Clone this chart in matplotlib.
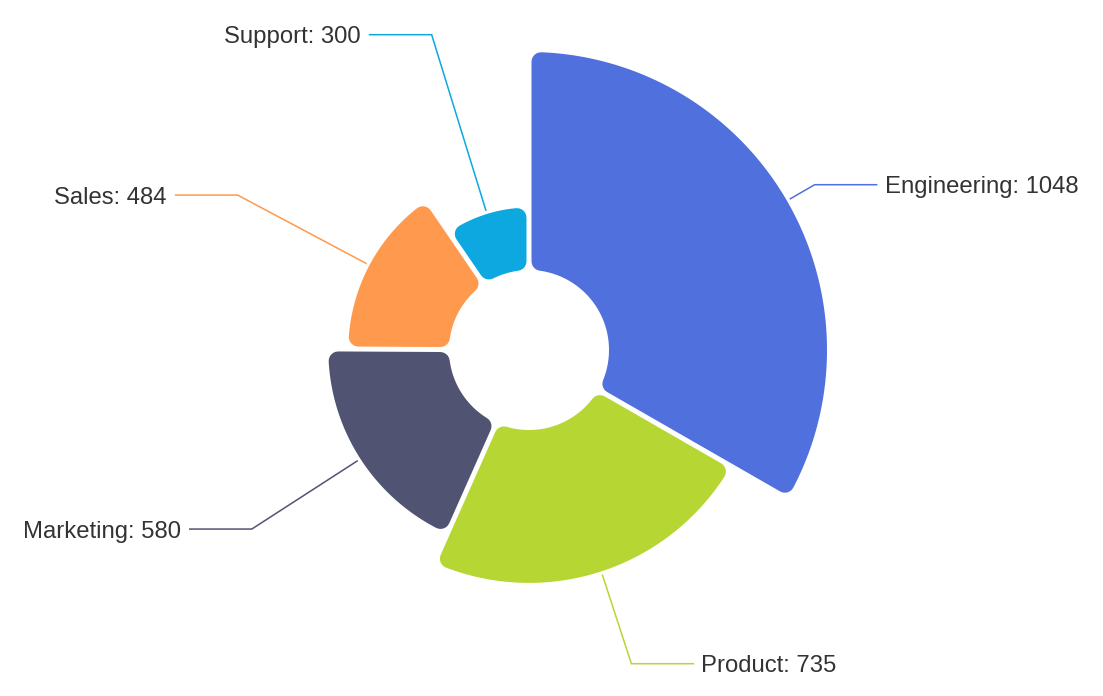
import numpy as np
import matplotlib
matplotlib.use("Agg")
import matplotlib.pyplot as plt
from matplotlib.patches import Polygon

# ---- data ----
categories = ["Engineering", "Product", "Marketing", "Sales", "Support"]
values = [1048, 735, 580, 484, 300]
colors = ["#5070dd", "#b6d634", "#505372", "#ff994d", "#0ca8df"]

# ---- layout (pixels) ----
W, H = 1103, 696
cx, cy = 529, 350
r_inner = 80
r_outer = 298
corner = 9.5
gap = 5.0
PT = 0.72  # points per pixel at dpi 100

fig = plt.figure(figsize=(W / 100, H / 100), dpi=100)
ax = fig.add_axes([0, 0, 1, 1])
ax.set_xlim(0, W)
ax.set_ylim(H, 0)
ax.set_aspect("equal")
ax.axis("off")

total = float(sum(values))
vmax = float(max(values))


def pt(r, ang_deg):
    a = np.radians(ang_deg)
    return cx + r * np.cos(a), cy - r * np.sin(a)


start = 90.0
for name, v, col in zip(categories, values, colors):
    span = 360.0 * v / total
    a1 = start            # start angle (counter-clockwise degrees), going clockwise
    a2 = start - span
    R = r_inner + (r_outer - r_inner) * v / vmax
    d = corner + gap / 2.0
    ro = R - corner
    ri = r_inner + corner
    do = np.degrees(np.arcsin(d / ro))
    di = np.degrees(np.arcsin(d / ri))
    outer_angles = np.linspace(a1 - do, a2 + do, 200)
    inner_angles = np.linspace(a2 + di, a1 - di, 120)
    pts = [pt(ro, a) for a in outer_angles] + [pt(ri, a) for a in inner_angles]
    poly = Polygon(pts, closed=True, facecolor=col, edgecolor=col,
                   linewidth=2 * corner * PT, joinstyle="round", zorder=2)
    ax.add_patch(poly)

    # label line
    mid = start - span / 2.0
    x0, y0 = pt(R + 4, mid)
    xe, ye = pt(r_outer + 32, mid)
    right = np.cos(np.radians(mid)) >= 0
    xh = xe + 62 if right else xe - 62
    ax.plot([x0, xe, xh], [y0, ye, ye], color=col, lw=1.1, zorder=3,
            solid_joinstyle="miter")
    ax.text(xh + 8 if right else xh - 9, ye, f"{name}: {v}",
            ha="left" if right else "right", va="center_baseline",
            fontsize=17.2, color="#333333", family="Liberation Sans")
    start = a2

fig.savefig("out.png", dpi=100, facecolor="white")
